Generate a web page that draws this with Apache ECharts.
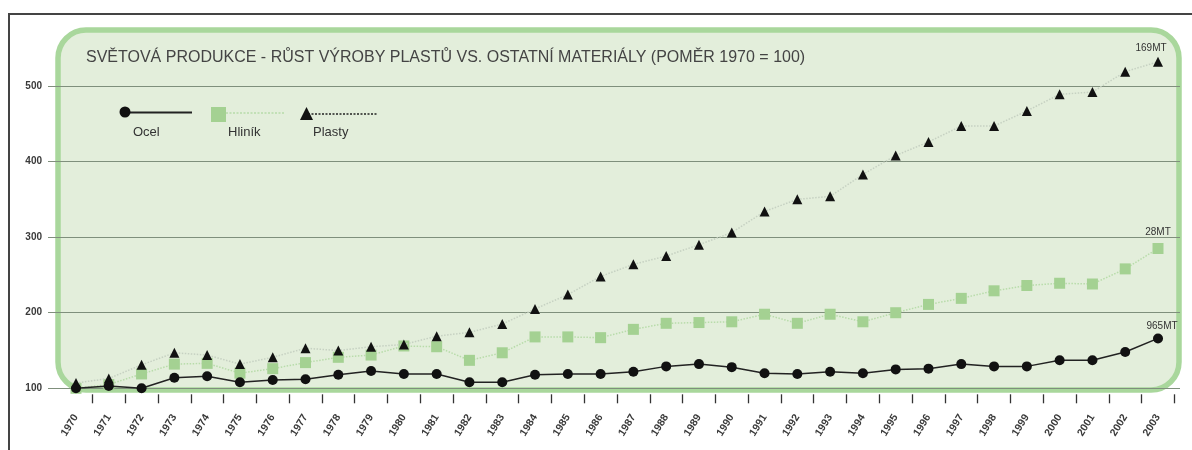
<!DOCTYPE html>
<html>
<head>
<meta charset="utf-8">
<script src="https://cdn.jsdelivr.net/npm/echarts@6/dist/echarts.min.js"></script>
<style>
  html, body { margin: 0; padding: 0; background: #ffffff; }
  #chart { width: 1192px; height: 450px; }
</style>
</head>
<body>
<div id="chart"></div>
<script>
// Roky
const years = ['1970','1971','1972','1973','1974','1975','1976','1977','1978','1979',
  '1980','1981','1982','1983','1984','1985','1986','1987','1988','1989',
  '1990','1991','1992','1993','1994','1995','1996','1997','1998','1999',
  '2000','2001','2002','2003'];

// Index produkce (1970 = 100)
const ocel = [100,103,100,114,116,108,111,112,118,123,
  119,119,108,108,118,119,119,122,129,132,
  128,120,119,122,120,125,126,132,129,129,
  137,137,148,166];

const hlinik = [100,105,119,132,133,120,126,134,141,144,
  156,155,137,147,168,168,167,178,186,187,
  188,198,186,198,188,200,211,219,229,236,
  239,238,258,285];

const plasty = [107,113,131,147,144,132,141,153,150,155,
  158,169,174,185,205,224,248,264,275,290,
  306,334,350,354,383,408,426,447,447,467,
  489,492,519,532];

// Objem produkce v posledním roce
const endLabels = { ocel: '965MT', hlinik: '28MT', plasty: '169MT' };

const yTicks = [100, 200, 300, 400, 500];
const title = 'SVĚTOVÁ PRODUKCE - RŮST VÝROBY PLASTŮ VS. OSTATNÍ MATERIÁLY (POMĚR 1970 = 100)';

const NARROW = "'Liberation Sans Narrow', 'Liberation Sans', Arial, sans-serif";
const SANS = "'Liberation Sans', Arial, sans-serif";

function withEndLabel(values, text, offset) {
  return values.map((v, i) => i === values.length - 1
    ? { value: v, label: { show: true, formatter: text, position: 'top', distance: 4,
        offset: offset, color: '#333', fontSize: 10, fontFamily: NARROW } }
    : v);
}

const chart = echarts.init(document.getElementById('chart'), null, { renderer: 'canvas' });

const option = {
  backgroundColor: '#ffffff',
  animation: false,
  title: {
    text: title,
    left: 81, top: 45,
    textStyle: { fontFamily: SANS, fontSize: 16, fontWeight: 'normal', color: '#444' }
  },
  grid: [
    // mřížka s popisky osy Y
    { left: 48, right: 12, top: 86, bottom: 450 - 388.3, containLabel: false },
    // data
    { left: 59.6, right: 17.6, top: 86, bottom: 450 - 388.3, containLabel: false }
  ],
  xAxis: [
    { gridIndex: 0, type: 'value', show: false },
    {
      gridIndex: 1, type: 'category', data: years, boundaryGap: true,
      offset: 6,
      axisLine: { show: false },
      axisTick: { show: true, length: 9, lineStyle: { color: '#333', width: 1.3 },
        interval: (i) => i > 0 },
      axisLabel: { interval: 0, rotate: 58, margin: 21, fontSize: 10.5,
        fontFamily: NARROW, fontWeight: 'bold', color: '#3a3a3a' }
    }
  ],
  yAxis: [
    {
      gridIndex: 0, type: 'value', min: yTicks[0], max: yTicks[yTicks.length - 1], interval: 100,
      axisLine: { show: false }, axisTick: { show: false },
      axisLabel: { margin: 6, fontSize: 10, fontFamily: NARROW, fontWeight: 'bold', color: '#3a3a3a' },
      splitLine: { show: true, lineStyle: { color: '#7f8f7c', width: 1.2 } },
      z: 3
    },
    {
      gridIndex: 1, type: 'value', min: yTicks[0], max: yTicks[yTicks.length - 1], interval: 100,
      show: false, splitLine: { show: false }
    }
  ],
  graphic: [
    // rámeček
    { type: 'line', z: 0, shape: { x1: 9, y1: 14, x2: 1192, y2: 14 }, style: { stroke: '#444', lineWidth: 2 } },
    { type: 'line', z: 0, shape: { x1: 9, y1: 13, x2: 9, y2: 450 }, style: { stroke: '#444', lineWidth: 2 } },
    // zelený panel
    { type: 'rect', z: -1, silent: true,
      shape: { x: 58, y: 30, width: 1121, height: 360, r: 28 },
      style: { fill: '#e3eedb', stroke: '#a9d79c', lineWidth: 5.5 } },
    // legenda
    { type: 'group', z: 10, children: [
      { type: 'line', shape: { x1: 125, y1: 112.5, x2: 192, y2: 112.5 }, style: { stroke: '#222', lineWidth: 2 } },
      { type: 'circle', shape: { cx: 125, cy: 112, r: 5.5 }, style: { fill: '#111' } },
      { type: 'text', style: { x: 133, y: 132, text: 'Ocel', fill: '#333', fontSize: 13, fontFamily: SANS, verticalAlign: 'middle' } },
      { type: 'line', shape: { x1: 226, y1: 113, x2: 285, y2: 113 }, style: { stroke: '#b8dcaa', lineWidth: 1.5, lineDash: [2, 1.5] } },
      { type: 'rect', shape: { x: 211, y: 107, width: 15, height: 15 }, style: { fill: '#a4d192' } },
      { type: 'text', style: { x: 228, y: 132, text: 'Hliník', fill: '#333', fontSize: 13, fontFamily: SANS, verticalAlign: 'middle' } },
      { type: 'line', shape: { x1: 308, y1: 114, x2: 377, y2: 114 }, style: { stroke: '#222', lineWidth: 1.3, lineDash: [2, 1.5] } },
      { type: 'polygon', shape: { points: [[300, 120], [313, 120], [306.5, 107]] }, style: { fill: '#111' } },
      { type: 'text', style: { x: 313, y: 132, text: 'Plasty', fill: '#333', fontSize: 13, fontFamily: SANS, verticalAlign: 'middle' } }
    ] }
  ],
  series: [
    {
      name: 'Plasty', type: 'line', xAxisIndex: 1, yAxisIndex: 1, clip: false, z: 4,
      data: withEndLabel(plasty, endLabels.plasty, [-7, 0]),
      symbol: 'triangle', symbolSize: 10,
      itemStyle: { color: '#111' },
      lineStyle: { color: '#c6d1c2', width: 1.5, type: 'dotted' }
    },
    {
      name: 'Hliník', type: 'line', xAxisIndex: 1, yAxisIndex: 1, clip: false, z: 3,
      data: withEndLabel(hlinik, endLabels.hlinik, [0, -2]),
      symbol: 'rect', symbolSize: 11,
      itemStyle: { color: '#a4d192' },
      lineStyle: { color: '#b8dcaa', width: 1.5, type: 'dotted' }
    },
    {
      name: 'Ocel', type: 'line', xAxisIndex: 1, yAxisIndex: 1, clip: false, z: 5,
      data: withEndLabel(ocel, endLabels.ocel, [4, 2]),
      symbol: 'circle', symbolSize: 10,
      itemStyle: { color: '#111' },
      lineStyle: { color: '#222', width: 1.5 }
    }
  ]
};

chart.setOption(option);
</script>
</body>
</html>
